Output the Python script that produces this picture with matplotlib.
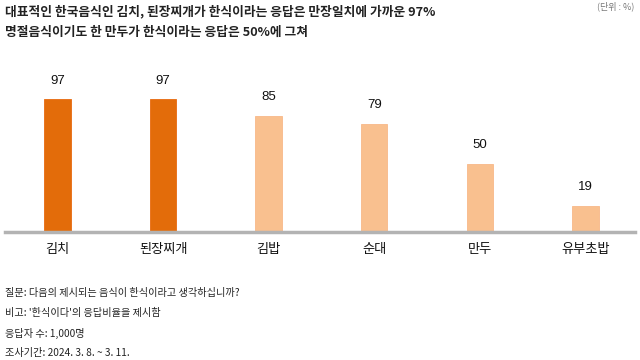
import matplotlib
matplotlib.use("Agg")
import matplotlib.pyplot as plt

plt.rcParams['font.family'] = ['Noto Sans CJK KR', 'DejaVu Sans']

categories = ["김치", "된장찌개", "김밥", "순대", "만두", "유부초밥"]
values = [97, 97, 85, 79, 50, 19]
highlight = [True, True, False, False, False, False]
title_lines = ["대표적인 한국음식인 김치, 된장찌개가 한식이라는 응답은 만장일치에 가까운 97%",
               "명절음식이기도 한 만두가 한식이라는 응답은 50%에 그쳐"]
unit_label = "(단위 : %)"
notes = ["질문: 다음의 제시되는 음식이 한식이라고 생각하십니까?",
         "비고: '한식이다'의 응답비율을 제시함",
         "응답자 수: 1,000명",
         "조사기간: 2024. 3. 8. ~ 3. 11."]

dark = "#E36C0A"
light = "#F9C08F"

W, H = 640, 360
fig = plt.figure(figsize=(6.4, 3.6), dpi=100)
ax = fig.add_axes([5 / W, 128 / H, 630 / W, 137 / H])
x = list(range(len(categories)))
colors = [dark if h else light for h in highlight]
edges = ["#E86A10" if h else "#F8B888" for h in highlight]
ax.bar(x, values, width=0.25, color=colors, edgecolor=edges, linewidth=0.6, zorder=2)
ax.set_xlim(-0.497, 5.47)
ax.set_ylim(0, 100)
for xi, v in zip(x, values):
    ax.annotate(str(v), (xi, v), xytext=(0, 9), textcoords="offset points",
                ha="center", va="bottom", fontsize=9.5, color="#111111", family="Liberation Sans")
for s in ["top", "right", "left"]:
    ax.spines[s].set_visible(False)
ax.spines["bottom"].set_color("#B3B3B3")
ax.spines["bottom"].set_linewidth(2.5)
ax.set_yticks([])
ax.set_xticks(x)
ax.set_xticklabels(categories, fontsize=9.5, color="#111111")
ax.tick_params(axis="x", length=0, pad=8)

fig.text(5 / W, 1 - 12 / H, title_lines[0], fontsize=9.2, fontweight="bold", va="center", ha="left", color="#222222")
fig.text(5 / W, 1 - 32 / H, title_lines[1], fontsize=9.2, fontweight="bold", va="center", ha="left", color="#222222")
fig.text(634 / W, 1 - 6 / H, unit_label, fontsize=6.5, va="center", ha="right", color="#777777")

for i, n in enumerate(notes):
    fig.text(5 / W, 1 - (293 + 20 * i) / H, n, fontsize=7.3, va="center", ha="left",
             color="#222222", fontweight="medium" if i == 0 else "normal")

fig.savefig("out.png", dpi=100)
